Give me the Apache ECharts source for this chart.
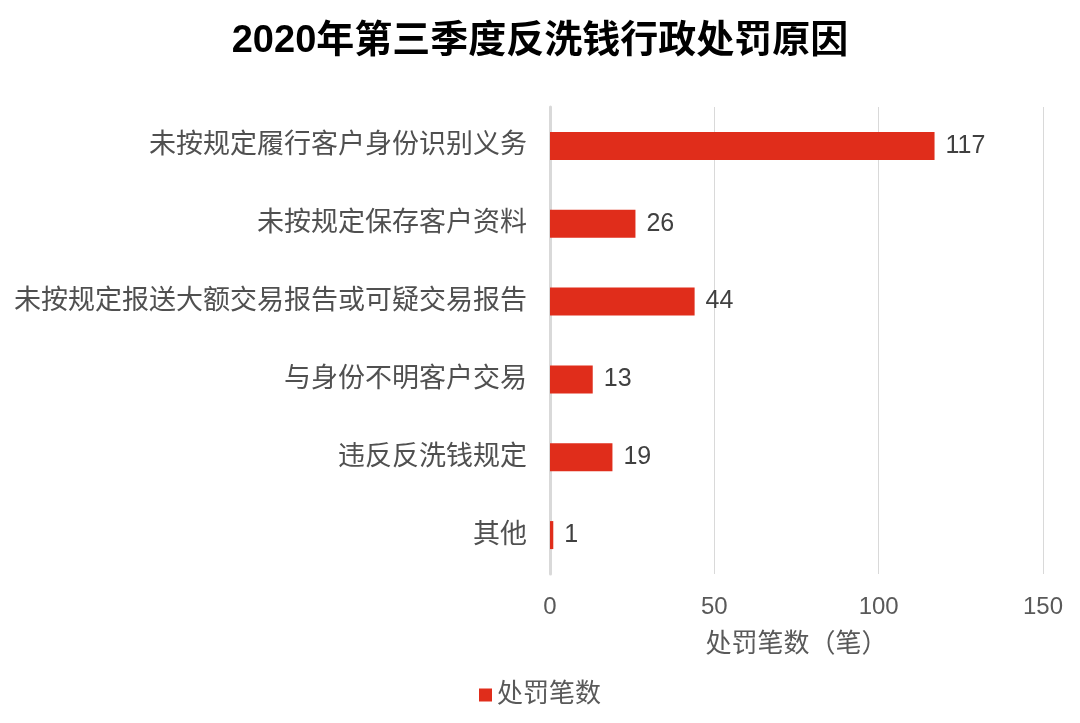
<!DOCTYPE html>
<html><head><meta charset="utf-8">
<script src="https://cdn.jsdelivr.net/npm/echarts@6/dist/echarts.min.js"></script>
<style>html,body{margin:0;padding:0;background:#fff}#c{width:1080px;height:723px}</style>
</head><body><div id="c"></div>
<script>
const categories = ['未按规定履行客户身份识别义务','未按规定保存客户资料','未按规定报送大额交易报告或可疑交易报告','与身份不明客户交易','违反反洗钱规定','其他'];
const values = [117, 26, 44, 13, 19, 1];
const seriesName = '处罚笔数';
const titleText = '2020年第三季度反洗钱行政处罚原因';
const axisName = '处罚笔数（笔）';
const FONT = '"Liberation Sans", "Noto Sans CJK SC", sans-serif';
const chart = echarts.init(document.getElementById('c'));
chart.setOption({
  animation: false,
  textStyle: {fontFamily: FONT},
  title: {text: titleText, left: 'center', top: 18,
    textStyle: {fontFamily: FONT, fontSize: 38, fontWeight: 'bold', color: '#000'}},
  grid: {left: 550, right: 37, top: 107, bottom: 149},
  legend: {bottom: 10, left: 'center', icon: 'rect', itemWidth: 13, itemHeight: 13, itemGap: 10,
    textStyle: {fontFamily: FONT, fontSize: 26, color: '#595959'}},
  xAxis: {type: 'value', min: 0, max: 150, interval: 50,
    name: axisName, nameLocation: 'middle', nameGap: 58,
    nameTextStyle: {fontFamily: FONT, fontSize: 26, color: '#595959'},
    axisLine: {show: false}, axisTick: {show: false},
    axisLabel: {fontSize: 24, color: '#595959', margin: 21, fontFamily: FONT},
    splitLine: {lineStyle: {color: '#d9d9d9', width: 1}}},
  yAxis: {type: 'category', data: categories, inverse: true,
    axisLine: {lineStyle: {color: '#d9d9d9', width: 3}}, axisTick: {show: false},
    axisLabel: {fontSize: 27, color: '#505050', margin: 23, fontFamily: FONT}},
  series: [{name: seriesName, type: 'bar', data: values, barWidth: 28,
    itemStyle: {color: '#e02d1b'},
    label: {show: true, position: 'right', distance: 11, fontSize: 25, color: '#404040', fontFamily: FONT}}]
});
</script></body></html>
